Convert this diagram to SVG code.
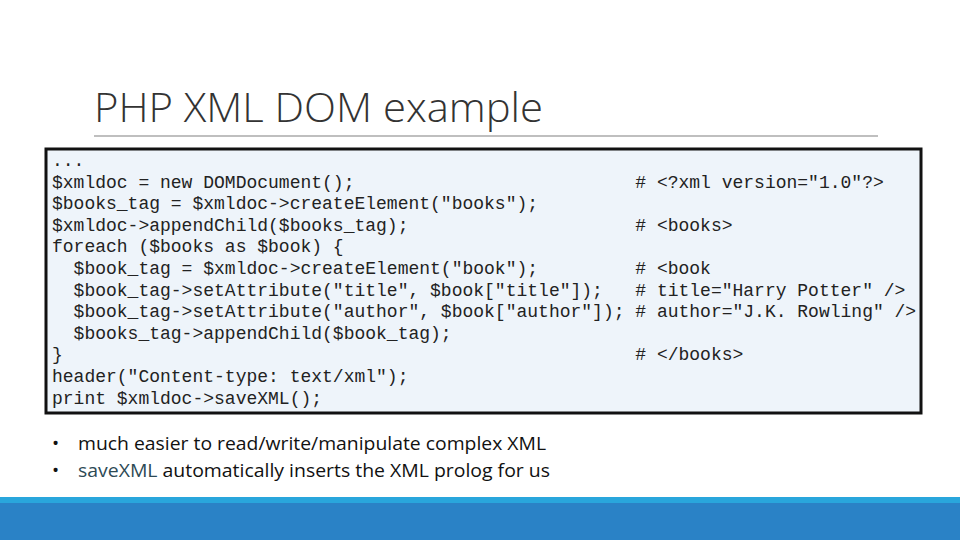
<svg xmlns="http://www.w3.org/2000/svg" width="960" height="540" viewBox="0 0 960 540">
<style>
.code{font-family:"Liberation Mono",monospace;font-size:18px;fill:#222;white-space:pre}
.b{font-family:"Open Sans","Liberation Sans",sans-serif;font-size:19px;fill:#111}
</style>
<rect width="960" height="540" fill="#fff"/>
<g id="title">
<text x="94" y="122" font-family="'Open Sans','Liberation Sans',sans-serif" font-weight="300" font-size="40" fill="#333" textLength="449" lengthAdjust="spacingAndGlyphs">PHP XML DOM example</text>
<line x1="94" y1="136" x2="878" y2="136" stroke="#aaa" stroke-width="1.5"/>
</g>
<g id="code">
<rect x="46" y="149" width="875" height="264" fill="#eef4fa" stroke="#111" stroke-width="3"/>
<text class="code" xml:space="preserve"><tspan x="52" y="166">...</tspan><tspan x="52" y="188">$xmldoc = new DOMDocument();                          # &lt;?xml version="1.0"?&gt;</tspan><tspan x="52" y="209">$books_tag = $xmldoc-&gt;createElement("books");</tspan><tspan x="52" y="231">$xmldoc-&gt;appendChild($books_tag);                     # &lt;books&gt;</tspan><tspan x="52" y="252">foreach ($books as $book) {</tspan><tspan x="52" y="274">  $book_tag = $xmldoc-&gt;createElement("book");         # &lt;book</tspan><tspan x="52" y="296">  $book_tag-&gt;setAttribute("title", $book["title"]);   # title="Harry Potter" /&gt;</tspan><tspan x="52" y="317">  $book_tag-&gt;setAttribute("author", $book["author"]); # author="J.K. Rowling" /&gt;</tspan><tspan x="52" y="339">  $books_tag-&gt;appendChild($book_tag);</tspan><tspan x="52" y="360">}                                                     # &lt;/books&gt;</tspan><tspan x="52" y="382">header("Content-type: text/xml");</tspan><tspan x="52" y="404">print $xmldoc-&gt;saveXML();</tspan></text>
</g>
<g id="bullets">
<text class="b" x="52" y="450">•</text>
<text class="b" x="78" y="450" textLength="468" lengthAdjust="spacingAndGlyphs">much easier to read/write/manipulate complex XML</text>
<text class="b" x="52" y="477">•</text>
<text class="b" x="78" y="477" textLength="472" lengthAdjust="spacingAndGlyphs"><tspan fill="#2d4a55">saveXML</tspan> automatically inserts the XML prolog for us</text>
</g>
<rect x="0" y="497" width="960" height="6" fill="#29a6dc"/>
<rect x="0" y="503" width="960" height="37" fill="#2a82c6"/>
</svg>
